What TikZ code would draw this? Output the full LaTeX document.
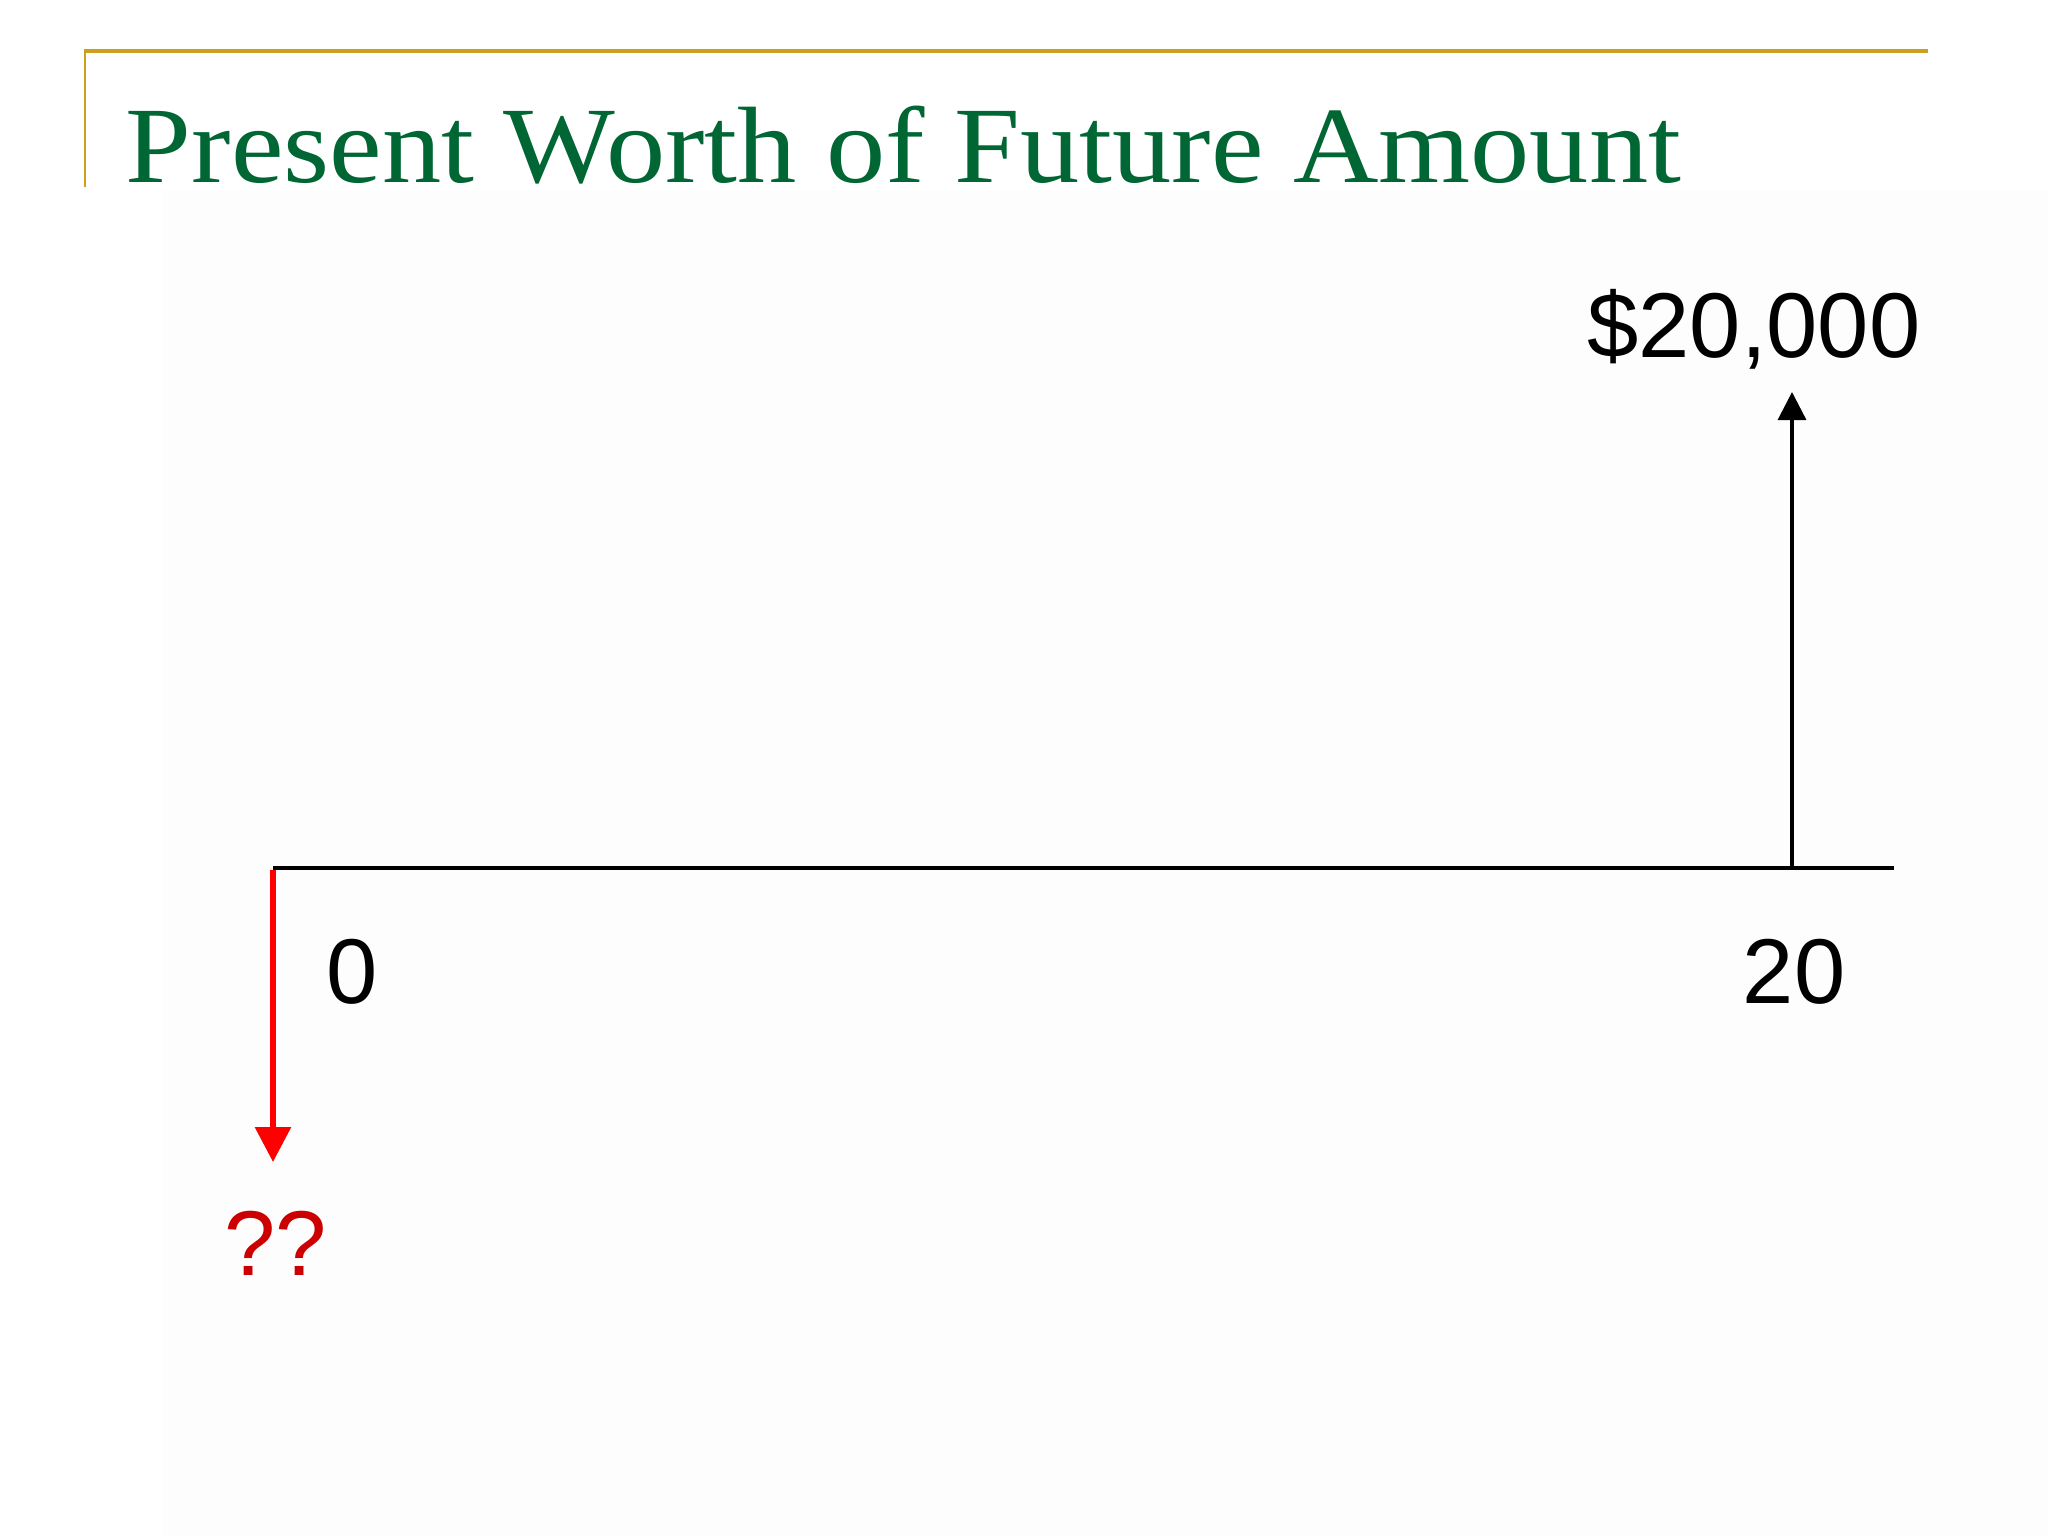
\documentclass[tikz,border=0pt]{standalone}
\usepackage{fontspec}
\setmainfont{Liberation Serif}
\newfontfamily\arialf{Liberation Sans}
\usetikzlibrary{arrows.meta}
\definecolor{titlegreen}{RGB}{0,102,51}
\definecolor{gold}{RGB}{204,160,29}
\definecolor{qred}{RGB}{204,0,0}
\tikzset{
  lbl/.style={anchor=base, inner sep=0pt, font=\arialf\fontsize{26.2pt}{30pt}\selectfont},
  axis/.style={line width=0.45mm, black},
  cashup/.style={line width=0.33mm, black, -{Triangle[width=2.8mm,length=2.8mm]}},
  cashdown/.style={line width=0.6mm, red, -{Triangle[width=3.5mm,length=3.5mm]}}
}
\begin{document}
\begin{tikzpicture}[x=0.1mm, y=-0.1mm]
\useasboundingbox (0,0) rectangle (2048,1536);
\fill[black!0.6] (163,190) rectangle (2048,1536);
% title frame
\draw[gold, line width=0.4mm] (84,51) -- (1928,51);
\draw[gold, line width=0.25mm] (85,51) -- (85,187);
\node[anchor=base west, inner sep=0pt, text=titlegreen, xscale=1.09, font=\fontsize{30.9pt}{36pt}\selectfont] (title) at (125,182) {Present Worth of Future Amount};
% timeline
\coordinate (t0) at (273,868);
\coordinate (t20) at (1792,868);
\coordinate (tend) at (1894,868);
\coordinate (fut) at (1792,392);
\coordinate (pres) at (273,1162);
\draw[axis] (t0) -- (tend);
\draw[cashup] (t20) -- (fut);
\draw[cashdown] (273,870) -- (pres);
% labels
\node[lbl] (amt) at (1754,357) {\$20,000};
\node[lbl] (zero) at (352,1003) {0};
\node[lbl] (twenty) at (1794,1003) {20};
\node[lbl, text=qred] (qq) at (276,1275) {??};
\end{tikzpicture}
\end{document}
